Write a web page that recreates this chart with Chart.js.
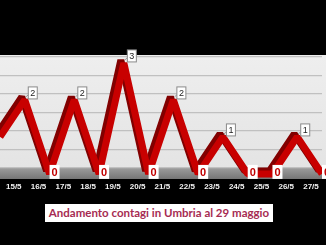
<!DOCTYPE html>
<html>
<head>
<meta charset="utf-8">
<script src="https://cdn.jsdelivr.net/npm/chart.js@4.4.1/dist/chart.umd.min.js"></script>
<style>
  html, body { margin: 0; padding: 0; background: #000; width: 326px; height: 245px; overflow: hidden; position: relative; }
  #wrap { position: absolute; left: -30px; top: 0; width: 386px; height: 245px; }
  #title {
    position: absolute; left: 45px; top: 204px; width: 228px; height: 18px;
    background: #fff; color: #a62b52; font: 700 11.5px Lato, "Liberation Sans", sans-serif;
    line-height: 18px; text-align: center; white-space: nowrap;
  }
</style>
</head>
<body>
<div id="wrap"><canvas id="c" width="386" height="245"></canvas></div>
<div id="title">Andamento contagi in Umbria al 29 maggio</div>
<script>
// Daily new cases, Umbria, May 2020
const days = ['14/5','15/5','16/5','17/5','18/5','19/5','20/5','21/5','22/5','23/5','24/5','25/5','26/5','27/5'];
const newCases = [1, 2, 0, 2, 0, 3, 0, 2, 0, 1, 0, 0, 1, 0];
const gridSteps = [0, 0.5, 1, 1.5, 2, 2.5, 3];

// Plot wall, grid floor and ribbon depth
const wallPlugin = {
  id: 'wall',
  beforeDraw(chart) {
    const { ctx, chartArea: a, width } = chart;
    ctx.save();
    const g = ctx.createLinearGradient(0, a.top, 0, a.bottom);
    g.addColorStop(0, '#eeeeee');
    g.addColorStop(1, '#e4e4e4');
    ctx.fillStyle = g;
    ctx.fillRect(0, a.top - 2, width, a.bottom - a.top + 2);
    const f = ctx.createLinearGradient(0, a.bottom, 0, a.bottom + 11);
    f.addColorStop(0, '#9c9c9c');
    f.addColorStop(1, '#767676');
    ctx.fillStyle = f;
    ctx.fillRect(0, a.bottom, width, 11);
    ctx.restore();
  },
  beforeDatasetDraw(chart) {
    const ctx = chart.ctx;
    ctx.save();
    ctx.shadowColor = '#820000';
    ctx.shadowOffsetX = -3;
    ctx.shadowOffsetY = -3;
    ctx.shadowBlur = 0;
  },
  afterDatasetDraw(chart) {
    chart.ctx.restore();
  },
  afterDatasetsDraw(chart) {
    const { ctx } = chart;
    const meta = chart.getDatasetMeta(0);
    ctx.save();
    ctx.textAlign = 'center';
    ctx.textBaseline = 'middle';
    meta.data.forEach((pt, i) => {
      const v = newCases[i];
      if (pt.x < 35) return;
      let cx, cy;
      if (v === 0) {
        cx = pt.x + 5; cy = pt.y - 2;
        ctx.fillStyle = '#ffffff';
        ctx.fillRect(cx - 5, cy - 7, 10, 14);
        ctx.fillStyle = '#c00000';
        ctx.font = '700 11px "Liberation Sans", sans-serif';
        ctx.fillText(String(v), cx, cy + 1);
      } else {
        cx = pt.x + 8; cy = pt.y - 7;
        ctx.strokeStyle = '#9a9a9a';
        ctx.lineWidth = 1;
        ctx.beginPath();
        ctx.moveTo(pt.x + 1, pt.y - 3);
        ctx.lineTo(cx - 4.5, cy + 2);
        ctx.stroke();
        ctx.fillStyle = '#ffffff';
        ctx.fillRect(cx - 4.5, cy - 6, 9, 12);
        ctx.strokeStyle = '#8a8a8a';
        ctx.strokeRect(cx - 4.5, cy - 6, 9, 12);
        ctx.fillStyle = '#222';
        ctx.font = '9px "Liberation Sans", sans-serif';
        ctx.fillText(String(v), cx, cy + 0.5);
      }
    });
    ctx.restore();
  }
};

new Chart(document.getElementById('c'), {
  type: 'line',
  data: {
    labels: days,
    datasets: [{
      data: newCases,
      yAxisID: 'y2',
      borderColor: '#c80000',
      borderWidth: 7,
      borderJoinStyle: 'bevel',
      borderCapStyle: 'butt',
      pointRadius: 0,
      tension: 0,
      fill: false,
      clip: false
    }]
  },
  options: {
    responsive: false,
    devicePixelRatio: 1,
    animation: false,
    layout: { padding: { left: 30, right: 34, top: 57, bottom: 0 } },
    plugins: { legend: { display: false }, tooltip: { enabled: false }, title: { display: false } },
    scales: {
      x: {
        type: 'category',
        offset: false,
        grid: { display: false, drawTicks: false },
        border: { display: false },
        ticks: {
          color: '#f2f2f2',
          font: { family: '"Liberation Sans", sans-serif', size: 8, weight: 'bold' },
          padding: 14,
          labelOffset: -11,
          maxRotation: 0,
          autoSkip: false
        },
        afterFit(s) { s.height = 77; }
      },
      y: {
        min: 0, max: 3,
        afterBuildTicks(s) { s.ticks = gridSteps.map(v => ({ value: v })); },
        grid: { color: '#c0c0c0', lineWidth: 1.3, drawTicks: false },
        border: { display: false },
        ticks: { display: false },
        afterFit(s) { s.width = 0; }
      },
      y2: {
        display: false,
        min: 0.16, max: 3.16
      }
    }
  },
  plugins: [wallPlugin]
});
</script>
</body>
</html>
